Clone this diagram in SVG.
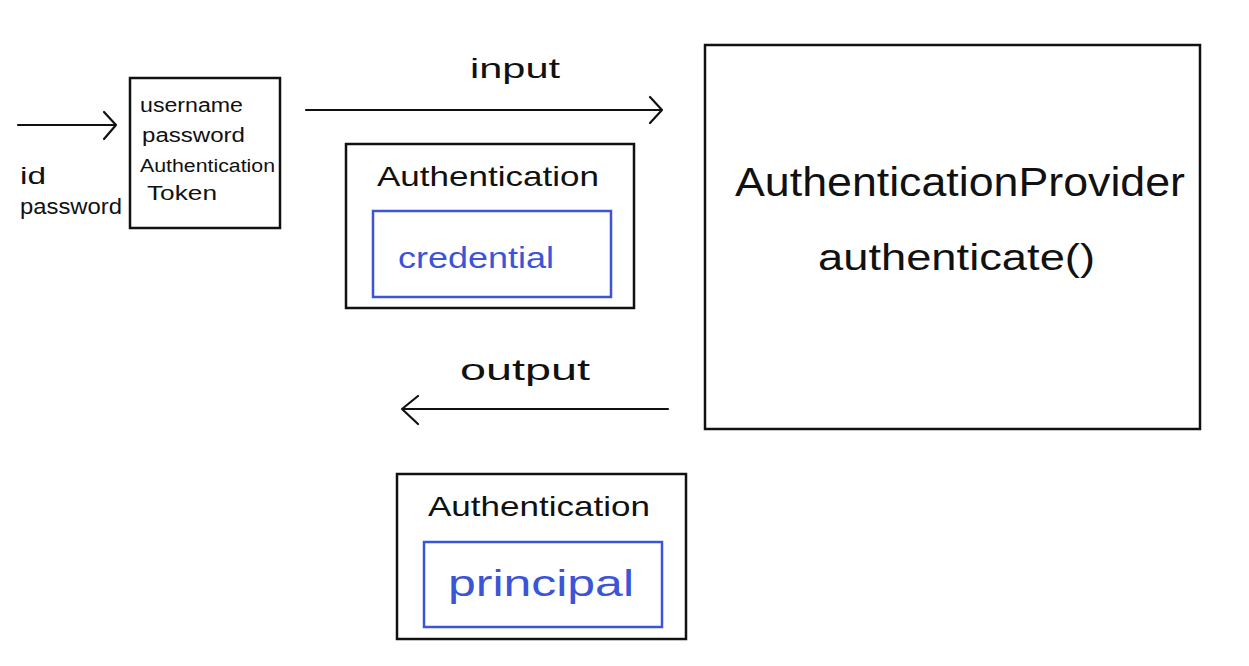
<svg xmlns="http://www.w3.org/2000/svg" width="1249" height="666" viewBox="0 0 1249 666">
<defs>
<style>
.box{fill:none;stroke:#111;stroke-width:2.5}
.inner{fill:none;stroke:#3b55d6;stroke-width:2.5}
.t{font-family:"Liberation Sans",Arial,sans-serif;fill:#111}
.b{font-family:"Liberation Sans",Arial,sans-serif;fill:#3b55d6}
.ln{fill:none;stroke:#111;stroke-width:2.2;stroke-linecap:round;stroke-linejoin:round}
</style>
</defs>
<rect width="1249" height="666" fill="#fff"/>
<g id="connectors">
<path class="ln" d="M18 125 H116 M104 112 L116 125 L104 139"/>
<path class="ln" d="M306 110 H662 M650 97 L662 110 L650 123"/>
<path class="ln" d="M668 409 H402 M418 396 L402 409 L418 424"/>
<text class="t" x="470" y="78" font-size="28" textLength="90" lengthAdjust="spacingAndGlyphs">input</text>
<text class="t" x="460" y="380" font-size="30" textLength="130" lengthAdjust="spacingAndGlyphs">output</text>
<text class="t" x="20" y="184" font-size="24" textLength="26" lengthAdjust="spacingAndGlyphs">id</text>
<text class="t" x="20" y="214" font-size="22" textLength="102" lengthAdjust="spacingAndGlyphs">password</text>
</g>
<g id="token">
<rect class="box" x="130" y="78" width="150" height="150"/>
<text class="t" x="140" y="112" font-size="20" textLength="103" lengthAdjust="spacingAndGlyphs">username</text>
<text class="t" x="142" y="142" font-size="20" textLength="103" lengthAdjust="spacingAndGlyphs">password</text>
<text class="t" x="140" y="172" font-size="18" textLength="135" lengthAdjust="spacingAndGlyphs">Authentication</text>
<text class="t" x="147" y="200" font-size="20" textLength="70" lengthAdjust="spacingAndGlyphs">Token</text>
</g>
<g id="auth-input">
<rect class="box" x="346" y="144" width="288" height="164"/>
<text class="t" x="377" y="186" font-size="28" textLength="222" lengthAdjust="spacingAndGlyphs">Authentication</text>
<rect class="inner" x="373" y="211" width="238" height="86"/>
<text class="b" x="398" y="268" font-size="30" textLength="156" lengthAdjust="spacingAndGlyphs">credential</text>
</g>
<g id="provider">
<rect class="box" x="705" y="45" width="495" height="384"/>
<text class="t" x="735" y="196" font-size="40" textLength="450" lengthAdjust="spacingAndGlyphs">AuthenticationProvider</text>
<text class="t" x="818" y="270" font-size="36" textLength="277" lengthAdjust="spacingAndGlyphs">authenticate()</text>
</g>
<g id="auth-output">
<rect class="box" x="397" y="474" width="289" height="165"/>
<text class="t" x="428" y="516" font-size="28" textLength="222" lengthAdjust="spacingAndGlyphs">Authentication</text>
<rect class="inner" x="424" y="542" width="238" height="85"/>
<text class="b" x="448" y="596" font-size="36" textLength="186" lengthAdjust="spacingAndGlyphs">principal</text>
</g>
</svg>
